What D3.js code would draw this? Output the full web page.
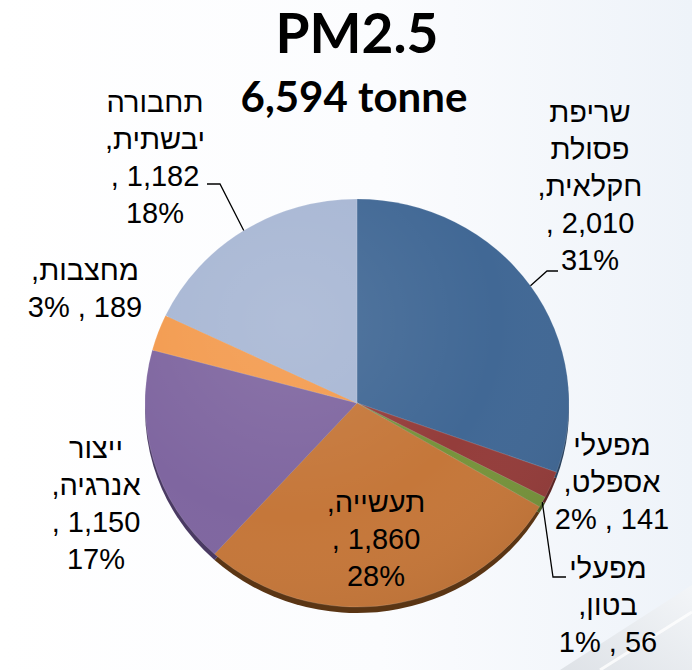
<!DOCTYPE html>
<html>
<head>
<meta charset="utf-8">
<script src="https://cdn.jsdelivr.net/npm/d3@7"></script>
<style>
  html, body { margin: 0; padding: 0; background: #ffffff; }
  svg { display: block; }
</style>
</head>
<body>
<svg id="chart" width="692" height="670"></svg>
<script>
// ---- data ----
const title = "PM2.5";
const subtitle = "6,594 tonne";
const categories = ["שריפת פסולת חקלאית", "מפעלי אספלט", "מפעלי בטון", "תעשייה", "ייצור אנרגיה", "מחצבות", "תחבורה יבשתית"];
const values = [2010, 141, 56, 1860, 1150, 189, 1182];
const percentLabels = ["31%", "2%", "1%", "28%", "17%", "3%", "18%"];
const colors = ["#416895", "#943d3b", "#77933c", "#c5773a", "#7f66a0", "#f39b4f", "#a8b7d4"];
const rimColors = ["#29425f", "#5c2524", "#4a5c25", "#5a3514", "#4a3a63", "#9a5f2e", "#6a7590"];
// label wrapping style: value and percent on separate lines ("stack") or together ("inline")
const labelStyle = ["stack", "inline", "inline", "stack", "stack", "inline", "stack"];

// ---- layout ----
const W = 692, H = 670;
const cx = 357, cy = 403, rx = 212, ry = 204, depth = 6;
const labelPos = [
  {x: 590, y: 122}, {x: 612, y: 455}, {x: 608, y: 578}, {x: 376, y: 512},
  {x: 96, y: 458}, {x: 85, y: 280}, {x: 155, y: 112}
];
const leaders = {
  0: [[547, 271], [558, 271]],
  2: [[553, 577], [566, 577]],
  6: [[220, 184], [207, 184]]
};
const lineH = 37;

const svg = d3.select("#chart");
const defs = svg.append("defs");

// background
const bg = defs.append("linearGradient").attr("id", "bg").attr("x1", 0).attr("y1", 0).attr("x2", 1).attr("y2", 0);
bg.append("stop").attr("offset", "0%").attr("stop-color", "#ffffff");
bg.append("stop").attr("offset", "55%").attr("stop-color", "#fbfcfe");
bg.append("stop").attr("offset", "100%").attr("stop-color", "#eef3f9");
svg.append("rect").attr("width", W).attr("height", H).attr("fill", "url(#bg)");
const corner = defs.append("linearGradient").attr("id", "corner").attr("x1", 0).attr("y1", 1).attr("x2", 1).attr("y2", 0);
corner.append("stop").attr("offset", "0%").attr("stop-color", "#d9dde2");
corner.append("stop").attr("offset", "100%").attr("stop-color", "#f4f6f8");
svg.append("path").attr("d", `M560,${H} L${W},585 L${W},${H} Z`).attr("fill", "url(#corner)").attr("opacity", 0.8);
svg.append("path").attr("d", `M600,${H} L${W},612`).attr("stroke", "#ffffff").attr("stroke-width", 3).attr("opacity", 0.8);

// pie
const pie = d3.pie().sort(null).value(d => d)(values);
const arc = d3.arc().innerRadius(0).outerRadius(rx);

// depth rim
const rimG = svg.append("g").attr("transform", `translate(${cx},${cy + depth}) scale(1,${ry / rx})`);
rimG.selectAll("path").data(pie).join("path")
  .attr("d", arc).attr("fill", (d, i) => rimColors[i]);

// soft shading overlay
const shade = defs.append("radialGradient").attr("id", "shade")
  .attr("cx", "35%").attr("cy", "30%").attr("r", "80%");
shade.append("stop").attr("offset", "0%").attr("stop-color", "#ffffff").attr("stop-opacity", 0.10);
shade.append("stop").attr("offset", "60%").attr("stop-color", "#ffffff").attr("stop-opacity", 0.0);
shade.append("stop").attr("offset", "100%").attr("stop-color", "#000000").attr("stop-opacity", 0.06);

const faceG = svg.append("g").attr("transform", `translate(${cx},${cy}) scale(1,${ry / rx})`);
faceG.selectAll("path.slice").data(pie).join("path").attr("class", "slice")
  .attr("d", arc).attr("fill", (d, i) => colors[i])
  .attr("stroke", "rgba(255,255,255,0.25)").attr("stroke-width", 0.6);
faceG.append("circle").attr("r", rx).attr("fill", "url(#shade)");

// titles
svg.append("text").attr("x", cx).attr("y", 53).attr("text-anchor", "middle")
  .attr("font-family", "Lato, 'Open Sans', sans-serif").attr("font-weight", 700)
  .attr("font-size", 55).attr("fill", "#000").text(title);
svg.append("text").attr("x", 354).attr("y", 112).attr("text-anchor", "middle")
  .attr("font-family", "Lato, 'Open Sans', sans-serif").attr("font-weight", 700)
  .attr("font-size", 42).attr("fill", "#000").text(subtitle);

// leader lines
const fmt = d3.format(",");
function anchor(d) {
  const a = (d.startAngle + d.endAngle) / 2;
  return [cx + rx * Math.sin(a), cy - ry * Math.cos(a)];
}
Object.keys(leaders).forEach(k => {
  const i = +k;
  const pts = [anchor(pie[i])].concat(leaders[i]);
  svg.append("path").attr("d", d3.line()(pts))
    .attr("fill", "none").attr("stroke", "#000").attr("stroke-width", 1.3);
});

// labels
pie.forEach((d, i) => {
  const words = categories[i].split(" ");
  const lines = words.map((w, j) => ({t: j === words.length - 1 ? w + "," : w, rtl: true}));
  const v = fmt(values[i]);
  if (labelStyle[i] === "stack") {
    lines.push({t: ", " + v, rtl: false});
    lines.push({t: percentLabels[i], rtl: false});
  } else {
    lines.push({t: percentLabels[i] + " , " + v, rtl: false});
  }
  const p = labelPos[i];
  lines.forEach((ln, j) => {
    svg.append("text")
      .attr("x", p.x).attr("y", p.y + j * lineH)
      .attr("text-anchor", "middle")
      .attr("direction", ln.rtl ? "rtl" : "ltr")
      .attr("font-family", "'Liberation Sans', 'DejaVu Sans', sans-serif")
      .attr("font-size", 29).attr("fill", "#000")
      .text(ln.t);
  });
});
</script>
</body>
</html>
